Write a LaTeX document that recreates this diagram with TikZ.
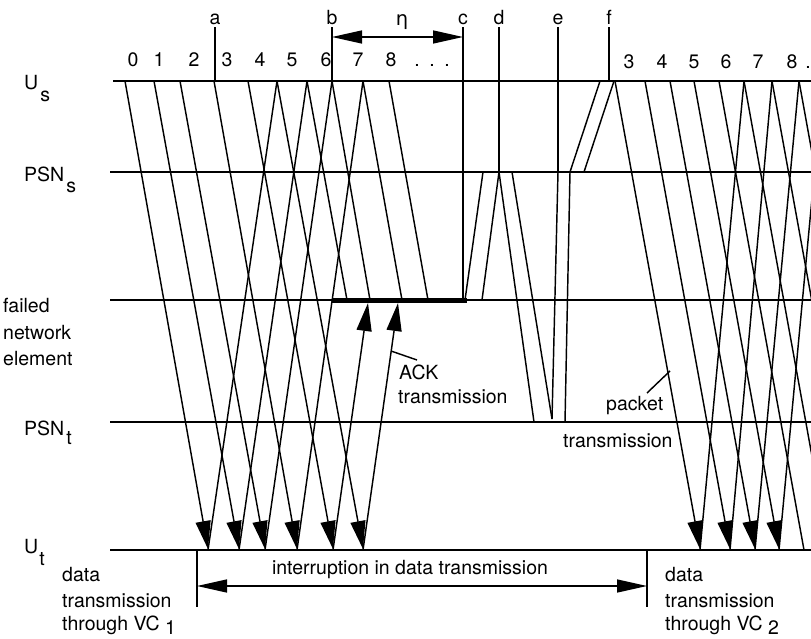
\documentclass[tikz,border=0pt]{standalone}
\usepackage{fontspec}
\setmainfont{TeX Gyre Heros}
\newfontfamily\greekfont{DejaVu Sans}
\usetikzlibrary{arrows.meta}
\tikzset{
  tl/.style={line width=1.7pt},
  pkt/.style={line width=1.45pt},
  arr/.style={pkt,-{Triangle[length=28pt,width=15pt]}},
  dbl/.style={pkt,{Triangle[length=30pt,width=13pt]}-{Triangle[length=30pt,width=13pt]}},
  lab/.style={inner sep=0pt, font=\fontsize{19.5}{22}\selectfont},
}
\begin{document}
\begin{tikzpicture}[x=1pt,y=-1pt]
\useasboundingbox (0,0) rectangle (811,639);
\clip (0,0) rectangle (811,639);

% time lines
\foreach \n/\y/\xl in {Us/81/113, PSNs/172/110, F/300/110, PSNt/422/110, Ut/550/110} {
  \coordinate (\n-l) at (\xl,\y);
  \coordinate (\n-r) at (811,\y);
  \draw[tl] (\n-l) -- (\n-r);
}

% failure period
\coordinate (fb1) at (332,300);
\coordinate (fb2) at (467,300);
\draw[line width=5pt] (fb1) -- (fb2);

% VC1 data delivered
\foreach \t/\b [count=\i] in {125/208,154/239,180/265,214/297,248/333,277/363} {
  \coordinate (ls\i) at (\t,81);
  \coordinate (lr\i) at (\b,549);
  \draw[arr] (ls\i) -- (lr\i);
}
% VC1 data lost
\foreach \t/\b [count=\i] in {307/347,332/370,363/402,389/428} {
  \coordinate (lx\i) at (\t,81);
  \coordinate (ly\i) at (\b,300);
  \draw[pkt] (lx\i) -- (ly\i);
}
% VC1 ACKs
\foreach \b/\t [count=\i] in {208/277,239/307,265/332,297/363} {
  \coordinate (la\i) at (\b,550);
  \coordinate (lb\i) at (\t,81);
  \draw[pkt] (la\i) -- (lb\i);
}
% VC1 ACKs lost
\foreach \b/\t [count=\i] in {333/368,363/398} {
  \coordinate (lk\i) at (\b,550);
  \coordinate (lm\i) at (\t,303);
  \draw[arr] (lk\i) -- (lm\i);
}

% switching messages
\coordinate (m1) at (465,300); \coordinate (m2) at (483,172);
\coordinate (m3) at (482,300); \coordinate (m4) at (499,172);
\coordinate (m5) at (534,422);
\coordinate (m6) at (512,172); \coordinate (m7) at (552,419);
\coordinate (m8) at (558,172);
\coordinate (m9) at (570,172); \coordinate (m10) at (565,422);
\coordinate (m11) at (600,81);
\coordinate (m12) at (584,172); \coordinate (m13) at (614,81);
\draw[pkt] (m1) -- (m2);
\draw[pkt] (m3) -- (m4);
\draw[pkt] (m4) -- (m5);
\draw[pkt] (m6) -- (m7);
\draw[pkt] (m7) -- (m8);
\draw[pkt] (m9) -- (m10);
\draw[pkt] (m9) -- (m11);
\draw[pkt] (m12) -- (m13);

% VC2 data
\foreach \t/\b [count=\i] in {615/700,645/730,670/755,694/779} {
  \coordinate (rs\i) at (\t,81);
  \coordinate (rr\i) at (\b,549);
  \draw[arr] (rs\i) -- (rr\i);
}
\foreach \t/\b [count=\i] in {719/804,744/829,772/857,799/884} {
  \coordinate (rx\i) at (\t,81);
  \coordinate (ry\i) at (\b,550);
  \draw[pkt] (rx\i) -- (ry\i);
}
% VC2 ACKs
\foreach \b/\t [count=\i] in {700/744,730/772,755/799,779/823} {
  \coordinate (ra\i) at (\b,550);
  \coordinate (rb\i) at (\t,81);
  \draw[pkt] (ra\i) -- (rb\i);
}

% event markers
\node[lab,anchor=base] (ta) at (215,25) {a};
\node[lab,anchor=base] (tb) at (332,25) {b};
\node[lab,anchor=base] (tc) at (463,25) {c};
\node[lab,anchor=base] (td) at (499,25) {d};
\node[lab,anchor=base] (te) at (558,25) {e};
\node[lab,anchor=base] (tf) at (609,25) {f};
\node[lab,anchor=base] (teta) at (402,26) {\greekfont η};
\coordinate (ab) at (215,81);
\coordinate (bb) at (332,81);
\coordinate (cb) at (463,300);
\coordinate (fbot) at (609,81);
\draw[tl] (ta.south) ++(0,2) -- (ab);
\draw[tl] (tb.south) ++(0,2) -- (bb);
\draw[tl] (tc.south) ++(0,2) -- (cb);
\draw[tl] (td.south) ++(0,2) -- (m4);
\draw[tl] (te.south) ++(0,2) -- (m8);
\draw[tl] (tf.south) ++(0,2) -- (fbot);
\coordinate (eta1) at (332,37);
\coordinate (eta2) at (463,37);
\draw[dbl] (eta1) -- (eta2);

% packet numbers
\foreach \x/\s [count=\i] in {133/0,159/1,194/2,227/3,260/4,292/5,326/6,358/7,391/8} {
  \node[lab,anchor=base] (nl\i) at (\x,67) {\s};
}
\foreach \x [count=\i] in {417,432,447} {
  \node[lab,anchor=base] (dl\i) at (\x,67) {.};
}
\foreach \x/\s [count=\i] in {629/3,662/4,694/5,726/6,758/7,792/8,808/.} {
  \node[lab,anchor=base] (nr\i) at (\x,69) {\s};
}

% left labels
\node[lab,anchor=base west] (lUs) at (24,90) {U\hspace{2pt}\raisebox{-12pt}{s}};
\node[lab,anchor=base west] (lPSNs) at (24,182) {PSN\hspace{2pt}\raisebox{-11pt}{s}};
\node[lab,anchor=base west] (lf1) at (3,312) {failed};
\node[lab,anchor=base west] (lf2) at (3,339) {network};
\node[lab,anchor=base west] (lf3) at (3,365) {element};
\node[lab,anchor=base west] (lPSNt) at (24,435) {PSN\hspace{2pt}\raisebox{-9pt}{t}};
\node[lab,anchor=base west] (lUt) at (24,553) {U\hspace{1pt}\raisebox{-12pt}{t}};

% ACK label
\node[lab,anchor=base west] (ack1) at (399,379) {ACK};
\node[lab,anchor=base west] (ack2) at (398,403) {transmission};
\coordinate (ackp) at (391,351);
\coordinate (ackq) at (417,360);
\draw[pkt] (ackp) -- (ackq);

% packet label
\node[lab,anchor=base west] (pk1) at (606,410) {packet};
\node[lab,anchor=base west] (pk2) at (563,447) {transmission};
\coordinate (pkp) at (647,393);
\coordinate (pkq) at (670,371);
\draw[pkt] (pkp) -- (pkq);

% interruption
\coordinate (i1t) at (197,550); \coordinate (i1b) at (197,607);
\coordinate (i2t) at (647,550); \coordinate (i2b) at (647,607);
\draw[pkt] (i1t) -- (i1b);
\draw[pkt] (i2t) -- (i2b);
\coordinate (ia) at (197,586); \coordinate (ib) at (647,586);
\draw[dbl] (ia) -- (ib);
\node[lab,anchor=base] (intr) at (410,574) {interruption in data transmission};

% VC labels
\node[lab,anchor=base west] (v1a) at (62,581) {data};
\node[lab,anchor=base west] (v1b) at (62,607) {transmission};
\node[lab,anchor=base west] (v1c) at (62,630) {through VC \raisebox{-4pt}{1}};
\node[lab,anchor=base west] (v2a) at (665,581) {data};
\node[lab,anchor=base west] (v2b) at (665,607) {transmission};
\node[lab,anchor=base west] (v2c) at (665,630) {through VC \raisebox{-4pt}{2}};
\end{tikzpicture}
\end{document}
